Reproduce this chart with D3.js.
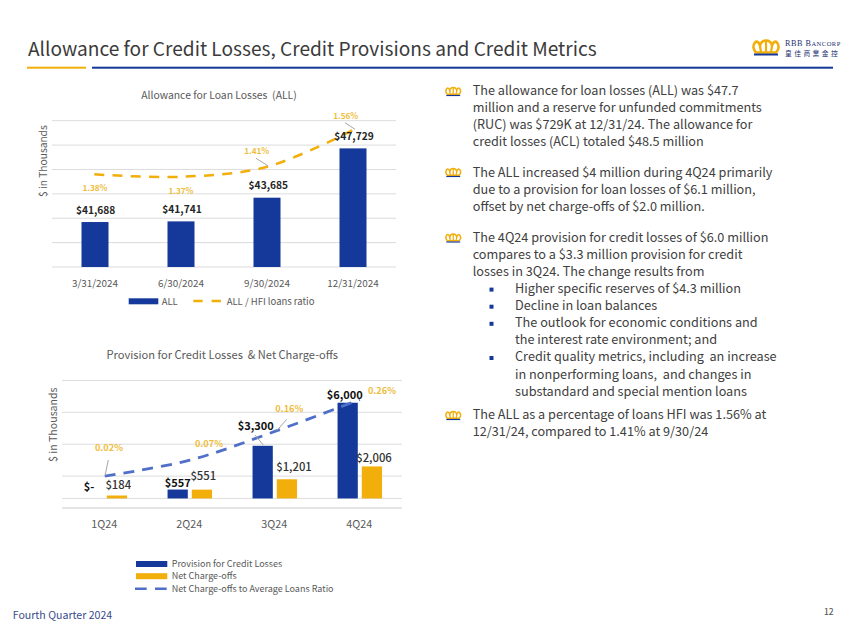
<!DOCTYPE html>
<html><head><meta charset="utf-8">
<script src="https://cdn.jsdelivr.net/npm/d3@7"></script>
<style>html,body{margin:0;padding:0;background:#fff}svg{display:block}text{font-family:"Noto Sans CJK SC","Noto Sans",sans-serif}</style>
</head><body><svg id="c" width="850" height="638"></svg>
<script>
const allDates=["3/31/2024","6/30/2024","9/30/2024","12/31/2024"];
const allValues=[41688,41741,43685,47729];
const allLabels=["$41,688","$41,741","$43,685","$47,729"];
const allRatio=[1.38,1.37,1.41,1.56];
const allRatioLabels=["1.38%","1.37%","1.41%","1.56%"];
const allGrid=[38000,40000,42000,44000,46000,48000,50000];
const quarters=["1Q24","2Q24","3Q24","4Q24"];
const provision=[0,557,3300,6000];
const provisionLabels=["$-","$557","$3,300","$6,000"];
const chargeoffs=[184,551,1201,2006];
const chargeoffLabels=["$184","$551","$1,201","$2,006"];
const ncoRatio=[0.02,0.07,0.16,0.26];
const ncoLabels=["0.02%","0.07%","0.16%","0.26%"];
const provGrid=[-600,0,1400,3400,5400,7400];
const bullets=[
 {crown:91,y:94.5,lines:["The allowance for loan losses (ALL) was $47.7","million and a reserve for unfunded commitments","(RUC) was $729K at 12/31/24. The allowance for","credit losses (ACL) totaled $48.5 million"]},
 {crown:172,y:177,lines:["The ALL increased $4 million during 4Q24 primarily","due to a provision for loan losses of $6.1 million,","offset by net charge-offs of $2.0 million."]},
 {crown:237.5,y:242,lines:["The 4Q24 provision for credit losses of $6.0 million","compares to a $3.3 million provision for credit","losses in 3Q24. The change results from"]},
 {crown:415,y:419,lines:["The ALL as a percentage of loans HFI was 1.56% at","12/31/24, compared to 1.41% at 9/30/24"]}
];
const subBullets=[["Higher specific reserves of $4.3 million"],["Decline in loan balances"],["The outlook for economic conditions and","the interest rate environment; and"],["Credit quality metrics, including  an increase","in nonperforming loans,  and changes in","substandard and special mention loans"]];

const BLUE="#14399a",GOLD="#f2ae0a",LBLUE="#4f6fc9",GRID="#dcdcdc",GREY="#595959",LGOLD="#eebd3c",DARK="#262626";
const svg=d3.select("#c");
function txt(x,y,s,o={}){return svg.append("text").attr("x",x).attr("y",y).attr("text-anchor",o.a||"start").attr("font-size",o.s||11).attr("font-weight",o.w||400).attr("fill",o.f||GREY).attr("letter-spacing",o.l||null).attr("transform",o.r?`rotate(${o.r} ${x} ${y})`:null).style("white-space","pre").text(s);}

// header
txt(28,55.7,"Allowance for Credit Losses, Credit Provisions and Credit Metrics",{s:19.1,f:"#3b3b3b"});
svg.append("rect").attr("x",27).attr("y",66.7).attr("width",59).attr("height",2).attr("fill",GOLD);
svg.append("rect").attr("x",92).attr("y",66.7).attr("width",741).attr("height",2).attr("fill",BLUE);
function crown(x,y,k){
  const g=svg.append("g").attr("transform",`translate(${x},${y}) scale(${k})`);
  g.append("path").attr("d","M2 3 C-1 7 1 11 3 13 L23 13 C25 11 27 7 24 3 C22 1 20 3 19 6 C18 2 15 1 13 1 C11 1 8 2 7 6 C6 3 4 1 2 3Z").attr("fill","none").attr("stroke",GOLD).attr("stroke-width",2.6);
  g.append("path").attr("d","M7 6 L8 13 M19 6 L18 13 M13 1 L13 13").attr("stroke",GOLD).attr("stroke-width",2.2).attr("fill","none");
  g.append("rect").attr("x",1).attr("y",14).attr("width",24).attr("height",2).attr("fill",BLUE);
}
crown(753,39.5,1);
const logoTop=svg.append("text").attr("x",785).attr("y",45.5).attr("fill","#1d2f6f").style("font-family","'Liberation Serif',serif").attr("font-size",8.2).attr("letter-spacing",0.5);
logoTop.append("tspan").text("RBB B");
logoTop.append("tspan").attr("font-size",6.5).text("ANCORP");
svg.append("text").attr("x",785).attr("y",55.5).attr("font-size",6.8).attr("fill","#1d2f6f").attr("letter-spacing",2.4).style("font-family","'Noto Sans CJK TC'").text("皇佳商業金控");

// chart 1
const x1=d3.scaleBand().domain(allDates).range([52,396]);
const y1=d3.scaleLinear().domain([38000,50000]).range([267,120.7]);
const y1r=d3.scaleLinear().domain([1.0,1.6]).range([267,120.7]);
svg.append("g").selectAll("line").data(allGrid).join("line").attr("x1",52).attr("x2",396).attr("y1",d=>y1(d)).attr("y2",d=>y1(d)).attr("stroke",GRID).attr("stroke-width",1);
txt(219,98.5,"Allowance for Loan Losses  (ALL)",{a:"middle",s:10.4});
txt(47,197,"$ in Thousands",{s:10.2,r:-90});
const bw1=27;
svg.append("g").selectAll("rect").data(allDates).join("rect").attr("x",d=>x1(d)+x1.bandwidth()/2-bw1/2).attr("width",bw1).attr("y",(d,i)=>y1(allValues[i])).attr("height",(d,i)=>267-y1(allValues[i])).attr("fill",BLUE);
const c1=d=>x1(d)+x1.bandwidth()/2;
const line1=d3.line().x(d=>c1(d.k)-0.7).y(d=>y1r(d.v)).curve(d3.curveCatmullRom.alpha(0.5));
svg.append("path").attr("d",line1(allDates.map((k,i)=>({k,v:allRatio[i]})))).attr("fill","none").attr("stroke",GOLD).attr("stroke-width",2.5).attr("stroke-dasharray","10 8.3");
[[95.7,213.5],[182,212.8],[268.3,188.8],[354,139.5]].forEach((p,i)=>txt(p[0],p[1],allLabels[i],{a:"middle",s:10.2,w:700,f:DARK}));
[[95,191],[181,194],[256.7,154],[345.7,118.7]].forEach((p,i)=>txt(p[0],p[1],allRatioLabels[i],{a:"middle",s:8.2,w:700,f:LGOLD}));
svg.append("path").attr("d","M256 158.3 L268.3 166").attr("stroke","#a6a6a6").attr("fill","none");
svg.append("path").attr("d","M345 122.7 L355 129.3").attr("stroke","#a6a6a6").attr("fill","none");
allDates.forEach(d=>txt(c1(d),286.5,d,{a:"middle",s:9.9}));
svg.append("rect").attr("x",128.7).attr("y",298.3).attr("width",29.6).attr("height",6).attr("fill",BLUE);
txt(161.7,304.5,"ALL",{s:9.5});
svg.append("line").attr("x1",193.3).attr("x2",221).attr("y1",301).attr("y2",301).attr("stroke",GOLD).attr("stroke-width",2.5).attr("stroke-dasharray","9.3 9");
txt(226.7,304.5,"ALL / HFI loans ratio",{s:9.5});

// chart 2
const x2=d3.scaleBand().domain(quarters).range([62.3,402.3]);
const x2s=d3.scaleBand().domain(["p","c"]).range([0,44.5]).paddingInner(4.5/24.5*0.9);
const y2=d3.scaleLinear().domain([-600,7400]).range([508,380.4]);
const y2r=d3.scaleLinear().domain([-0.08,0.32]).range([508,380.4]);
svg.append("g").selectAll("line").data(provGrid).join("line").attr("x1",62).attr("x2",402).attr("y1",d=>y2(d)).attr("y2",d=>y2(d)).attr("stroke",GRID).attr("stroke-width",(d,i)=>i===0?1.5:1);
txt(222.3,358.5,"Provision for Credit Losses  & Net Charge-offs",{a:"middle",s:11.1});
txt(57,462,"$ in Thousands",{s:10.6,r:-90});
const off=x2.bandwidth()/2-22.25;
svg.append("g").selectAll("rect").data(quarters).join("rect").attr("x",d=>x2(d)+off+x2s("p")).attr("width",x2s.bandwidth()).attr("y",(d,i)=>y2(provision[i])).attr("height",(d,i)=>y2(0)-y2(provision[i])).attr("fill",BLUE);
svg.append("g").selectAll("rect").data(quarters).join("rect").attr("x",d=>x2(d)+off+x2s("c")).attr("width",x2s.bandwidth()).attr("y",(d,i)=>y2(chargeoffs[i])).attr("height",(d,i)=>y2(0)-y2(chargeoffs[i])).attr("fill",GOLD);
const c2=d=>x2(d)+x2.bandwidth()/2;
const line2=d3.line().x(d=>c2(d.k)).y(d=>y2r(d.v)).curve(d3.curveCatmullRom.alpha(0.5));
svg.append("path").attr("d",line2(quarters.map((k,i)=>({k,v:ncoRatio[i]})))).attr("fill","none").attr("stroke",LBLUE).attr("stroke-width",2.8).attr("stroke-dasharray","11 8");
[[89,491.2],[177.7,487.2],[255.7,429.5],[344.7,398.5]].forEach((p,i)=>txt(p[0],p[1],provisionLabels[i],{a:"middle",s:11,w:700,f:"#111"}));
[[118.3,488.5],[203.3,480.2],[294,471.2],[374,462.2]].forEach((p,i)=>txt(p[0],p[1],chargeoffLabels[i],{a:"middle",s:11.3,f:"#333",w:500}));
[[109,451.2],[209,447.2],[289.3,411.8],[382,393.5]].forEach((p,i)=>txt(p[0],p[1],ncoLabels[i],{a:"middle",s:9.2,w:700,f:LGOLD}));
svg.append("path").attr("d","M108.3 460 L105 475.7").attr("stroke","#a6a6a6").attr("fill","none");
svg.append("path").attr("d","M286.7 419.3 L276.7 430.7").attr("stroke","#a6a6a6").attr("fill","none");
svg.append("path").attr("d","M255 435 L263.3 445").attr("stroke","#a6a6a6").attr("fill","none");
quarters.forEach(d=>txt(c2(d)-0.5,528.2,d,{a:"middle",s:10.8}));
[["r",564,"Provision for Credit Losses",BLUE,566.7],["r",576.2,"Net Charge-offs",GOLD,579],["l",588.7,"Net Charge-offs to Average Loans Ratio",LBLUE,591.7]].forEach(([t,y,s,c,b])=>{
  if(t==="r")svg.append("rect").attr("x",136).attr("y",y-3).attr("width",31.3).attr("height",6).attr("fill",c);
  else svg.append("line").attr("x1",135).attr("x2",167).attr("y1",y).attr("y2",y).attr("stroke",c).attr("stroke-width",2.5).attr("stroke-dasharray","11.7 8.3");
  txt(171.7,b,s,{s:9});
});

// text block
const LH=17,BS=12.7;
bullets.forEach(b=>{
  crown(445.7,b.crown-4.2,0.58);
  b.lines.forEach((l,i)=>txt(472.7,b.y+i*LH,l,{s:BS,f:"#404040"}));
});
let sy=293;
subBullets.forEach(sb=>{
  svg.append("rect").attr("x",489.5).attr("y",sy-5.4).attr("width",4).attr("height",4).attr("fill",BLUE);
  sb.forEach(l=>{txt(515,sy,l,{s:BS,f:"#404040"});sy+=17.1;});
});
// footer
txt(12.7,619.3,"Fourth Quarter 2024",{s:10.6,f:"#3a4a8c"});
txt(824,615,"12",{s:8.5,f:GREY,w:500});
</script></body></html>
